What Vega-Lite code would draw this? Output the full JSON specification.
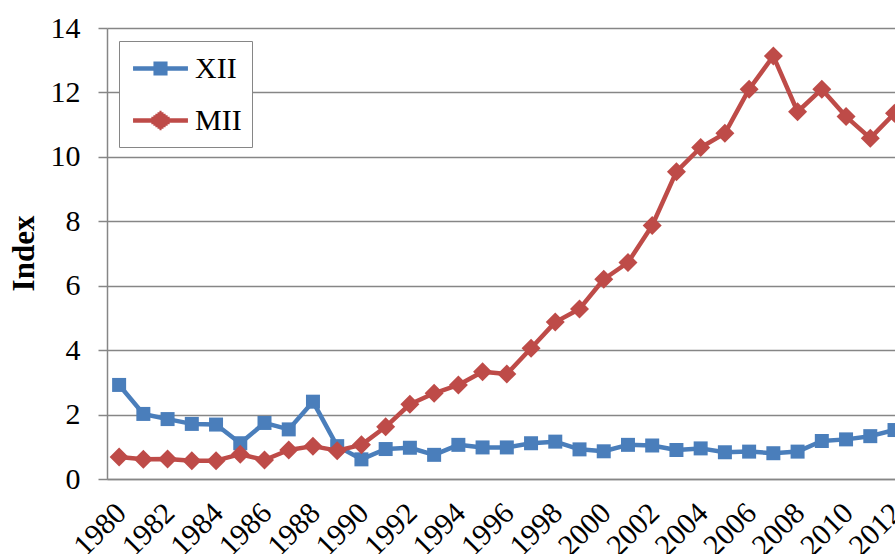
{
  "$schema": "https://vega.github.io/schema/vega-lite/v6.json",
  "width": 788,
  "height": 451,
  "autosize": {"type": "none"},
  "padding": {"left": 107, "top": 28, "right": 0, "bottom": 75},
  "background": "white",
  "config": {
    "view": {"stroke": null},
    "font": "Liberation Serif"
  },
  "data": {
    "values": [
      {"year": 1980, "series": "XII", "value": 2.92},
      {"year": 1981, "series": "XII", "value": 2.02},
      {"year": 1982, "series": "XII", "value": 1.86},
      {"year": 1983, "series": "XII", "value": 1.71},
      {"year": 1984, "series": "XII", "value": 1.69},
      {"year": 1985, "series": "XII", "value": 1.11},
      {"year": 1986, "series": "XII", "value": 1.74},
      {"year": 1987, "series": "XII", "value": 1.54},
      {"year": 1988, "series": "XII", "value": 2.40},
      {"year": 1989, "series": "XII", "value": 1.02},
      {"year": 1990, "series": "XII", "value": 0.61},
      {"year": 1991, "series": "XII", "value": 0.93},
      {"year": 1992, "series": "XII", "value": 0.97},
      {"year": 1993, "series": "XII", "value": 0.75},
      {"year": 1994, "series": "XII", "value": 1.06},
      {"year": 1995, "series": "XII", "value": 0.98},
      {"year": 1996, "series": "XII", "value": 0.98},
      {"year": 1997, "series": "XII", "value": 1.11},
      {"year": 1998, "series": "XII", "value": 1.16},
      {"year": 1999, "series": "XII", "value": 0.92},
      {"year": 2000, "series": "XII", "value": 0.86},
      {"year": 2001, "series": "XII", "value": 1.06},
      {"year": 2002, "series": "XII", "value": 1.04},
      {"year": 2003, "series": "XII", "value": 0.90},
      {"year": 2004, "series": "XII", "value": 0.95},
      {"year": 2005, "series": "XII", "value": 0.83},
      {"year": 2006, "series": "XII", "value": 0.85},
      {"year": 2007, "series": "XII", "value": 0.80},
      {"year": 2008, "series": "XII", "value": 0.85},
      {"year": 2009, "series": "XII", "value": 1.18},
      {"year": 2010, "series": "XII", "value": 1.23},
      {"year": 2011, "series": "XII", "value": 1.33},
      {"year": 2012, "series": "XII", "value": 1.52},
      {"year": 1980, "series": "MII", "value": 0.68},
      {"year": 1981, "series": "MII", "value": 0.61},
      {"year": 1982, "series": "MII", "value": 0.62},
      {"year": 1983, "series": "MII", "value": 0.57},
      {"year": 1984, "series": "MII", "value": 0.57},
      {"year": 1985, "series": "MII", "value": 0.77},
      {"year": 1986, "series": "MII", "value": 0.59},
      {"year": 1987, "series": "MII", "value": 0.90},
      {"year": 1988, "series": "MII", "value": 1.02},
      {"year": 1989, "series": "MII", "value": 0.88},
      {"year": 1990, "series": "MII", "value": 1.06},
      {"year": 1991, "series": "MII", "value": 1.62},
      {"year": 1992, "series": "MII", "value": 2.32},
      {"year": 1993, "series": "MII", "value": 2.66},
      {"year": 1994, "series": "MII", "value": 2.92},
      {"year": 1995, "series": "MII", "value": 3.33},
      {"year": 1996, "series": "MII", "value": 3.26},
      {"year": 1997, "series": "MII", "value": 4.06},
      {"year": 1998, "series": "MII", "value": 4.87},
      {"year": 1999, "series": "MII", "value": 5.28},
      {"year": 2000, "series": "MII", "value": 6.20},
      {"year": 2001, "series": "MII", "value": 6.72},
      {"year": 2002, "series": "MII", "value": 7.87},
      {"year": 2003, "series": "MII", "value": 9.54},
      {"year": 2004, "series": "MII", "value": 10.29},
      {"year": 2005, "series": "MII", "value": 10.73},
      {"year": 2006, "series": "MII", "value": 12.10},
      {"year": 2007, "series": "MII", "value": 13.13},
      {"year": 2008, "series": "MII", "value": 11.40},
      {"year": 2009, "series": "MII", "value": 12.10},
      {"year": 2010, "series": "MII", "value": 11.25},
      {"year": 2011, "series": "MII", "value": 10.58},
      {"year": 2012, "series": "MII", "value": 11.35}
    ]
  },
  "encoding": {
    "x": {
      "field": "year",
      "type": "quantitative",
      "scale": {"domain": [1979.5, 2012.02], "nice": false, "zero": false},
      "axis": {
        "title": null,
        "values": [1980, 1982, 1984, 1986, 1988, 1990, 1992, 1994, 1996, 1998, 2000, 2002, 2004, 2006, 2008, 2010, 2012],
        "format": "d",
        "grid": false,
        "ticks": false,
        "domainColor": "#868686",
        "domainWidth": 1.5,
        "labelAngle": -45,
        "labelAlign": "right",
        "labelBaseline": "middle",
        "labelPadding": 29,
        "labelOffset": 2,
        "labelFont": "Liberation Serif",
        "labelFontSize": 30,
        "labelColor": "#000000",
        "labelFlush": false,
        "labelOverlap": false,
        "labelBound": false
      }
    },
    "y": {
      "field": "value",
      "type": "quantitative",
      "scale": {"domain": [0, 14], "nice": false},
      "axis": {
        "title": "Index",
        "values": [0, 2, 4, 6, 8, 10, 12, 14],
        "grid": true,
        "gridColor": "#868686",
        "gridWidth": 1.5,
        "domainColor": "#868686",
        "domainWidth": 1.5,
        "tickColor": "#868686",
        "tickWidth": 1.5,
        "tickSize": 9,
        "labelPadding": 18,
        "labelFont": "Liberation Serif",
        "labelFontSize": 30,
        "labelColor": "#000000",
        "labelBaseline": "middle",
        "labelFlush": false,
        "titleFont": "Liberation Serif",
        "titleFontSize": 31,
        "titleFontWeight": "bold",
        "titleColor": "#000000",
        "titleAngle": 270,
        "titleAlign": "center",
        "titleBaseline": "alphabetic",
        "titleX": -74,
        "titleY": 225
      }
    }
  },
  "layer": [
    {
      "transform": [{"filter": "datum.series === 'XII'"}],
      "mark": {"type": "line", "color": "#4A7EBB", "strokeWidth": 4.5, "strokeJoin": "round"},
      "encoding": {}
    },
    {
      "transform": [{"filter": "datum.series === 'XII'"}],
      "mark": {"type": "point", "shape": "square", "size": 196, "filled": true, "opacity": 1, "color": "#4A7EBB"},
      "encoding": {}
    },
    {
      "transform": [{"filter": "datum.series === 'MII'"}],
      "mark": {"type": "line", "color": "#BE4B48", "strokeWidth": 4.5, "strokeJoin": "round"},
      "encoding": {}
    },
    {
      "transform": [{"filter": "datum.series === 'MII'"}],
      "mark": {"type": "point", "shape": "diamond", "size": 361, "filled": true, "opacity": 1, "color": "#BE4B48"},
      "encoding": {}
    },
    {
      "mark": {"type": "point", "filled": false, "size": 900, "strokeWidth": 4.5, "opacity": 0},
      "encoding": {
        "shape": {
          "field": "series",
          "type": "nominal",
          "scale": {
            "domain": ["XII", "MII"],
            "range": [
              "M-1.83,0H1.83M-0.47,-0.32H0.47M-0.47,-0.16H0.47M-0.47,0.16H0.47M-0.47,0.32H0.47",
              "M-1.83,0H1.83M-0.75,0H0.75M-0.61,-0.1H0.61M-0.61,0.1H0.61M-0.475,-0.2H0.475M-0.475,0.2H0.475M-0.34,-0.3H0.34M-0.34,0.3H0.34M-0.2,-0.4H0.2M-0.2,0.4H0.2M-0.07,-0.5H0.07M-0.07,0.5H0.07"
            ]
          },
          "legend": null
        },
        "color": {
          "field": "series",
          "type": "nominal",
          "scale": {"domain": ["XII", "MII"], "range": ["#4A7EBB", "#BE4B48"]},
          "legend": {
            "title": null,
            "orient": "none",
            "legendX": 12,
            "legendY": 13,
            "padding": 10,
            "strokeColor": "#868686",
            "fillColor": "#ffffff",
            "symbolOffset": 14,
            "labelOffset": 17,
            "rowPadding": 19,
            "labelFont": "Liberation Serif",
            "labelFontSize": 30,
            "labelColor": "#000000",
            "labelBaseline": "middle",
            "symbolSize": 900,
            "symbolStrokeWidth": 4.5,
            "symbolOpacity": 1
          }
        }
      }
    }
  ]
}
